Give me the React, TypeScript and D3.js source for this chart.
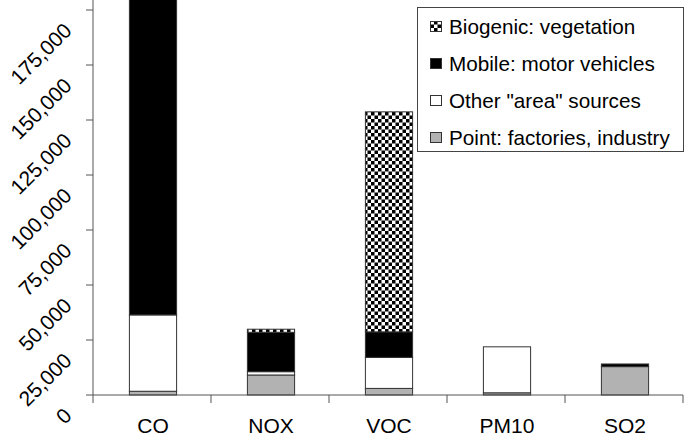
import React from "react";
import * as d3 from "d3";

const categories = ["CO", "NOX", "VOC", "PM10", "SO2"];
const pointSources = [1700, 9100, 3000, 1000, 12900];
const otherArea = [34700, 1500, 14100, 20900, 0];
const mobileVehicles = [153600, 17900, 11600, 0, 1200];
const biogenic = [0, 1400, 100000, 0, 0];
const yTicks = [0, 25000, 50000, 75000, 100000, 125000, 150000, 175000];
const seriesNames = [
  "Point: factories, industry",
  "Other \"area\" sources",
  "Mobile: motor vehicles",
  "Biogenic: vegetation",
];

const W = 686;
const H = 438;
const FONT = "'Liberation Sans', Arial, Helvetica, sans-serif";

export default function App() {
  const x = d3.scaleBand<string>().domain(categories).range([94, 684]).paddingInner(0.6).paddingOuter(0.3);
  const y = d3.scaleLinear().domain([0, 200000]).range([395, -45]);

  const rows = categories.map((c, i) => ({
    cat: c,
    point: pointSources[i],
    other: otherArea[i],
    mobile: mobileVehicles[i],
    bio: biogenic[i],
  }));
  const keys = ["point", "other", "mobile", "bio"];
  const stack = d3.stack<any>().keys(keys)(rows);
  const fills = ["#b2b2b2", "#ffffff", "#000000", "url(#checker)"];

  const band = d3.scaleBand<string>().domain(categories).range([93, 683]);

  const legendOrder = [3, 2, 1, 0];

  return (
    <svg width={W} height={H} style={{ position: "absolute", left: 0, top: 0, background: "#fff" }}>
      <defs>
        <pattern id="checker" patternUnits="userSpaceOnUse" width={7} height={7}>
          <rect x={0} y={0} width={7} height={7} fill="#fff" />
          <rect x={0} y={0} width={3.5} height={3.5} fill="#000" />
          <rect x={3.5} y={3.5} width={3.5} height={3.5} fill="#000" />
        </pattern>
      </defs>
      <rect x={0} y={0} width={W} height={H} fill="#fff" />
      {stack.map((s, si) =>
        s.map((d, di) => {
          const h = y(d[0]) - y(d[1]);
          if (h <= 0) return null;
          return (
            <rect
              key={`${si}-${di}`}
              x={x(categories[di])}
              y={y(d[1])}
              width={x.bandwidth()}
              height={h}
              fill={fills[si]}
              stroke="#333"
              strokeWidth={1}
            />
          );
        })
      )}
      {/* y axis */}
      <line x1={93} x2={93} y1={y(200000)} y2={403} stroke="#555" strokeWidth={1} />
      {yTicks.map((t) => (
        <g key={t}>
          <line x1={86} x2={93} y1={y(t)} y2={y(t)} stroke="#555" />
          <text
            transform={`translate(73,${y(t) + 22}) rotate(-45)`}
            textAnchor="end"
            fontFamily={FONT}
            fontSize={21}
            fill="#000"
          >
            {d3.format(",")(t)}
          </text>
        </g>
      ))}
      {/* x axis */}
      <line x1={93} x2={683} y1={395} y2={395} stroke="#555" />
      {categories.map((c, i) => (
        <g key={c}>
          <line x1={band(c)! + band.bandwidth()} x2={band(c)! + band.bandwidth()} y1={395} y2={403} stroke="#555" />
          <text
            x={band(c)! + band.bandwidth() / 2 + 1}
            y={433}
            textAnchor="middle"
            fontFamily={FONT}
            fontSize={21}
            fill="#000"
          >
            {c}
          </text>
        </g>
      ))}
      {/* legend */}
      <rect x={417.5} y={7.5} width={266} height={144} fill="#fff" stroke="#444" />
      {legendOrder.map((si, i) => (
        <g key={si}>
          <rect x={430.5} y={21.5 + i * 37} width={11} height={10} fill={fills[si]} stroke="#333" />
          <text x={449} y={33.5 + i * 37.2} fontFamily={FONT} fontSize={20.7} fill="#000">
            {seriesNames[si]}
          </text>
        </g>
      ))}
    </svg>
  );
}
